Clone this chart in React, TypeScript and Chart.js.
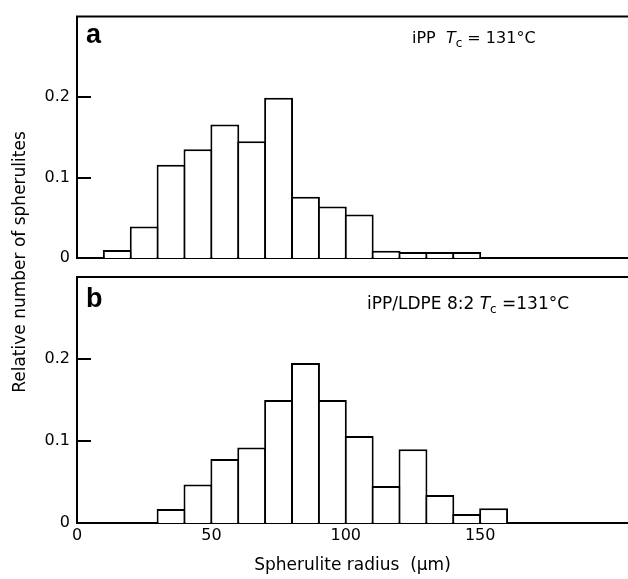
import React, { useEffect, useRef } from "react";
import { Chart, registerables } from "chart.js";

Chart.register(...registerables);

// ---- data ----
const binWidth = 10;
const binStartsA = [10, 20, 30, 40, 50, 60, 70, 80, 90, 100, 110, 120, 130, 140];
const valuesA = [0.01, 0.039, 0.116, 0.135, 0.166, 0.145, 0.199, 0.076, 0.064, 0.054, 0.009, 0.0075, 0.0075, 0.0075];
const binStartsB = [30, 40, 50, 60, 70, 80, 90, 100, 110, 120, 130, 140, 150];
const valuesB = [0.017, 0.047, 0.078, 0.092, 0.15, 0.195, 0.15, 0.106, 0.045, 0.09, 0.034, 0.011, 0.018];
const yTicks = [0, 0.1, 0.2];
const xTicks = [0, 50, 100, 150];
const xMin = 0;
const xMax = 205;
const yMax = 0.3;
const panelLabels = ["a", "b"];
const noteA = { pre: "iPP  ", sub: "c", post: " = 131°C" };
const noteB = { pre: "iPP/LDPE 8:2 ", sub: "c", post: " =131°C" };
const xTitle = "Spherulite radius  (μm)";
const yTitle = "Relative number of spherulites";

const FONT = "'DejaVu Sans', sans-serif";

function drawNote(ctx: CanvasRenderingContext2D, note: any, x: number, y: number, size: number) {
  ctx.save();
  ctx.fillStyle = "#000";
  ctx.textBaseline = "alphabetic";
  ctx.textAlign = "left";
  ctx.font = `${size}px ${FONT}`;
  ctx.fillText(note.pre, x, y);
  x += ctx.measureText(note.pre).width;
  ctx.font = `italic ${size}px ${FONT}`;
  ctx.fillText("T", x, y);
  x += ctx.measureText("T").width;
  ctx.font = `${Math.round(size * 0.72)}px ${FONT}`;
  ctx.fillText(note.sub, x, y + 4);
  x += ctx.measureText(note.sub).width;
  ctx.font = `${size}px ${FONT}`;
  ctx.fillText(note.post, x, y);
  ctx.restore();
}

function makeConfig(opts: {
  starts: number[];
  values: number[];
  top: number;
  bottom: number;
  showX: boolean;
  label: string;
  note: any;
  noteX: number;
  noteY: number;
  noteSize: number;
  labelY: number;
  drawYTitle: boolean;
}): any {
  const decor = {
    id: "decor",
    afterDraw(chart: any) {
      const { ctx, chartArea, scales } = chart;
      ctx.save();
      ctx.strokeStyle = "#000";
      ctx.lineWidth = 2;
      for (const v of yTicks) {
        if (v === 0) continue;
        const y = Math.round(scales.y.getPixelForValue(v));
        ctx.beginPath();
        ctx.moveTo(chartArea.left, y);
        ctx.lineTo(chartArea.left + 14, y);
        ctx.stroke();
      }
      ctx.beginPath();
      ctx.moveTo(chartArea.left - 1, chartArea.top);
      ctx.lineTo(chartArea.right, chartArea.top);
      ctx.stroke();
      ctx.fillStyle = "#000";
      ctx.font = `bold 27px 'Liberation Sans', Arial, sans-serif`;
      ctx.textAlign = "left";
      ctx.textBaseline = "alphabetic";
      ctx.fillText(opts.label, chartArea.left + 9, opts.labelY);
      ctx.restore();
      drawNote(ctx, opts.note, opts.noteX, opts.noteY, opts.noteSize);
      if (opts.drawYTitle) {
        ctx.save();
        ctx.fillStyle = "#000";
        ctx.font = `17px ${FONT}`;
        ctx.textAlign = "center";
        ctx.textBaseline = "middle";
        ctx.translate(21, 262);
        ctx.rotate(-Math.PI / 2);
        ctx.fillText(yTitle, 0, 0);
        ctx.restore();
      }
    },
  };

  return {
    type: "bar",
    data: {
      datasets: [
        {
          data: opts.starts.map((s, i) => ({ x: s + binWidth / 2, y: opts.values[i] })),
          backgroundColor: "#ffffff",
          borderColor: "#000000",
          borderWidth: 2,
          borderSkipped: "start",
          barPercentage: 1.075,
          categoryPercentage: 1,
        },
      ],
    },
    options: {
      responsive: false,
      animation: false,
      devicePixelRatio: 1,
      layout: { padding: { left: 0, right: 0, top: opts.top, bottom: opts.bottom } },
      plugins: { legend: { display: false }, tooltip: { enabled: false } },
      scales: {
        x: {
          type: "linear",
          min: xMin,
          max: xMax,
          offset: false,
          afterBuildTicks: (s: any) => {
            s.ticks = xTicks.map((v) => ({ value: v }));
          },
          afterFit: (s: any) => {
            s.height = opts.showX ? 56 : 0;
          },
          grid: { display: false, drawTicks: false, offset: false },
          border: { display: true, color: "#000", width: 2 },
          ticks: {
            display: opts.showX,
            color: "#000",
            padding: 3,
            maxRotation: 0,
            font: { family: FONT, size: 16 },
            callback: (v: number) => String(v),
          },
          title: {
            display: opts.showX,
            text: xTitle,
            color: "#000",
            font: { family: FONT, size: 17 },
            padding: { top: 0, bottom: 3 },
          },
        },
        y: {
          min: 0,
          max: yMax,
          afterBuildTicks: (s: any) => {
            s.ticks = yTicks.map((v) => ({ value: v }));
          },
          afterFit: (s: any) => {
            s.width = 77;
          },
          grid: { display: false, drawTicks: false },
          border: { display: true, color: "#000", width: 2 },
          ticks: {
            color: "#000",
            padding: 7,
            font: { family: FONT, size: 16 },
            callback: (v: number) => (v === 0 ? "0" : v.toFixed(1)),
          },
        },
      },
    },
    plugins: [decor],
  };
}

export default function App() {
  const refA = useRef<HTMLCanvasElement | null>(null);
  const refB = useRef<HTMLCanvasElement | null>(null);

  useEffect(() => {
    const a = new Chart(
      refA.current as HTMLCanvasElement,
      makeConfig({
        starts: binStartsA,
        values: valuesA,
        top: 14,
        bottom: 579 - 258,
        showX: false,
        label: panelLabels[0],
        note: noteA,
        noteX: 412,
        noteY: 43,
        noteSize: 16,
        labelY: 43,
        drawYTitle: false,
      })
    );
    const b = new Chart(
      refB.current as HTMLCanvasElement,
      makeConfig({
        starts: binStartsB,
        values: valuesB,
        top: 277,
        bottom: 0,
        showX: true,
        label: panelLabels[1],
        note: noteB,
        noteX: 367,
        noteY: 309,
        noteSize: 17,
        labelY: 307,
        drawYTitle: true,
      })
    );
    return () => {
      a.destroy();
      b.destroy();
    };
  }, []);

  const canvasStyle: React.CSSProperties = { position: "absolute", left: 0, top: 0 };
  return (
    <div style={{ position: "absolute", left: 0, top: 0, width: 628, height: 579, background: "#fff" }}>
      <canvas ref={refA} width={628} height={579} style={canvasStyle} />
      <canvas ref={refB} width={628} height={579} style={canvasStyle} />
    </div>
  );
}
